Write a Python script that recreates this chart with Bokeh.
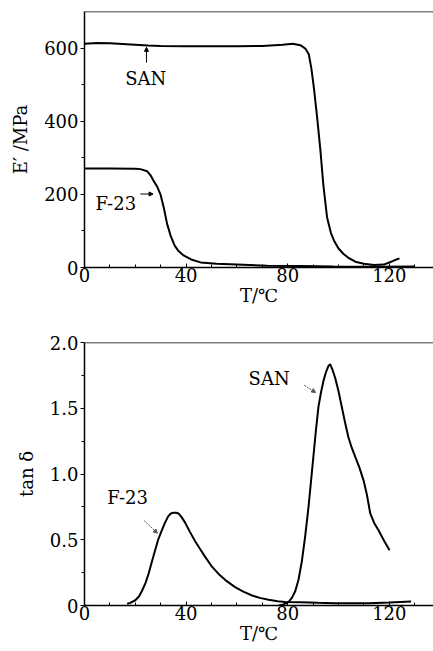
from bokeh.plotting import figure
from bokeh.layouts import column
from bokeh.models import FixedTicker, Label, Arrow, NormalHead, Span, Range1d
from bokeh.embed import file_html
from bokeh.resources import INLINE

# ---- data: storage modulus E' (MPa) vs T (°C)
san_E_T = [0, 5, 10, 15, 20, 25, 30, 40, 50, 60, 70, 78, 82, 85, 87, 88.3, 89.3, 90.3, 91.6, 92.9, 94, 95.5, 97, 98.2, 100, 102, 104, 107, 110, 114, 117.8, 120.5, 121.8, 124]
san_E = [612, 614, 613, 611, 609, 607, 606, 605, 605, 605, 606, 609, 612, 608, 598, 583, 545, 492, 410, 319, 228, 137, 95, 74, 52, 37, 26, 15, 10, 7, 8, 15, 19, 25]
f23_E_T = [0, 10, 20, 22, 24.7, 26, 27.3, 28.7, 29.9, 31.2, 32.5, 34, 35.5, 37, 39, 42, 45.7, 52, 60, 72, 85, 98, 115, 130]
f23_E = [271, 271, 270, 269, 263, 252, 236, 220, 200, 164, 120, 85, 60, 45, 33, 22, 14, 10, 8, 5, 4, 3, 2, 3]

# ---- data: tan delta vs T (°C)
f23_tan_T = [16.8, 18, 20, 21.5, 22.6, 24, 25.2, 26.5, 27.8, 29, 30.4, 31.7, 33, 34, 35, 36, 37, 38.3, 39.6, 41.5, 43.5, 45.5, 47.5, 50, 52.8, 56, 59.3, 62.5, 66, 69, 72.5, 76, 79, 85, 92, 98.7, 105, 112, 120, 128.6]
f23_tan = [0.013, 0.02, 0.04, 0.07, 0.11, 0.17, 0.24, 0.33, 0.42, 0.50, 0.57, 0.63, 0.68, 0.70, 0.705, 0.705, 0.70, 0.67, 0.63, 0.56, 0.49, 0.43, 0.37, 0.30, 0.24, 0.185, 0.14, 0.105, 0.076, 0.058, 0.043, 0.033, 0.027, 0.024, 0.02, 0.018, 0.017, 0.018, 0.022, 0.03]
san_tan_T = [76.4, 78, 80.3, 81.7, 83, 84.3, 85.6, 86.9, 88.2, 89.2, 90.2, 91.1, 92.1, 93.1, 94.1, 95, 96, 96.7, 97.5, 98.7, 100, 101.3, 102.6, 103.9, 105.2, 106.6, 108.2, 109.9, 111.2, 112.5, 114, 115.8, 118, 120.1]
san_tan = [0.0, 0.005, 0.025, 0.06, 0.11, 0.2, 0.34, 0.53, 0.75, 0.95, 1.15, 1.33, 1.51, 1.62, 1.71, 1.77, 1.82, 1.835, 1.80, 1.73, 1.63, 1.51, 1.39, 1.28, 1.20, 1.13, 1.05, 0.95, 0.84, 0.70, 0.63, 0.57, 0.49, 0.42]

x_ticks = [0, 40, 80, 120]
x_minor = [10, 20, 30, 50, 60, 70, 90, 100, 110, 130]
E_ticks = [0, 200, 400, 600]
E_minor = [100, 300, 500]
tan_ticks = [0, 0.5, 1.0, 1.5, 2.0]
tan_labels = ["0", "0.5", "1.0", "1.5", "2.0"]
tan_minor = [0.25, 0.75, 1.25, 1.75]

FONT = "DejaVu Serif"
FS = "18px"


def style(p, xt, xm, yt, ym, ylabels=None):
    p.xaxis.ticker = FixedTicker(ticks=xt, minor_ticks=xm)
    p.yaxis.ticker = FixedTicker(ticks=yt, minor_ticks=ym)
    if ylabels:
        p.yaxis.major_label_overrides = {t: l for t, l in zip(yt, ylabels)}
    p.xgrid.visible = False
    p.ygrid.visible = False
    p.outline_line_color = None
    p.background_fill_color = "white"
    p.border_fill_color = "white"
    for ax in (p.xaxis, p.yaxis):
        ax.axis_line_color = "black"
        ax.axis_line_width = 1.5
        ax.major_tick_line_color = "black"
        ax.minor_tick_line_color = "black"
        ax.major_tick_line_width = 1
        ax.minor_tick_line_width = 1
        ax.major_label_text_font = FONT
        ax.major_label_text_font_size = FS
        ax.major_label_text_color = "black"
        ax.axis_label_text_font = FONT
        ax.axis_label_text_font_size = FS
        ax.axis_label_text_font_style = "normal"
        ax.axis_label_text_color = "black"
    p.xaxis.major_tick_in = 4
    p.xaxis.major_tick_out = 0
    p.xaxis.minor_tick_in = 3
    p.xaxis.minor_tick_out = 0
    p.xaxis.major_label_standoff = 0
    p.xaxis.axis_label_standoff = 0
    p.yaxis.major_tick_in = 0
    p.yaxis.major_tick_out = 4
    p.yaxis.minor_tick_in = 0
    p.yaxis.minor_tick_out = 3
    p.yaxis.major_label_standoff = 2
    p.yaxis.axis_label_standoff = 10
    p.add_layout(Span(location=p.y_range.end, dimension="width", line_color="black", line_width=1.5))


# ---------- top: E'
p1 = figure(width=433, height=318, output_backend="svg", toolbar_location=None,
            x_range=Range1d(0, 137.4), y_range=Range1d(0, 700),
            min_border_left=84, min_border_right=0, min_border_top=11, min_border_bottom=51)
p1.line(san_E_T, san_E, line_color="black", line_width=2)
p1.line(f23_E_T, f23_E, line_color="black", line_width=2)
p1.xaxis.axis_label = "T/℃"
p1.yaxis.axis_label = "E′ /MPa"
style(p1, x_ticks, x_minor, E_ticks, E_minor)
p1.add_layout(Label(x=16, y=488, text="SAN", text_font=FONT, text_font_size=FS, text_color="black"))
p1.add_layout(Arrow(x_start=24.4, y_start=560, x_end=24.4, y_end=602, line_color="black", line_width=1,
                    end=NormalHead(size=4, fill_color="black", line_color="black")))
p1.add_layout(Label(x=4.3, y=147, text="F-23", text_font=FONT, text_font_size=FS, text_color="black"))
p1.add_layout(Arrow(x_start=22, y_start=201, x_end=27, y_end=201, line_color="black", line_width=1,
                    end=NormalHead(size=4, fill_color="black", line_color="black")))

# ---------- bottom: tan delta
p2 = figure(width=433, height=333, output_backend="svg", toolbar_location=None,
            x_range=Range1d(0, 137.4), y_range=Range1d(0, 2.0),
            min_border_left=84, min_border_right=0, min_border_top=24, min_border_bottom=46)
p2.line(f23_tan_T, f23_tan, line_color="black", line_width=2)
p2.line(san_tan_T, san_tan, line_color="black", line_width=2)
p2.xaxis.axis_label = "T/℃"
p2.yaxis.axis_label = "tan δ"
style(p2, x_ticks, x_minor, tan_ticks, tan_minor, tan_labels)
p2.add_layout(Label(x=9, y=0.74, text="F-23", text_font=FONT, text_font_size=FS, text_color="black"))
p2.add_layout(Arrow(x_start=23.5, y_start=0.645, x_end=28.7, y_end=0.55, line_color="#555555", line_width=1,
                    line_dash="2 1", end=NormalHead(size=4, fill_color="#555555", line_color="#555555")))
p2.add_layout(Label(x=64.6, y=1.65, text="SAN", text_font=FONT, text_font_size=FS, text_color="black"))
p2.add_layout(Arrow(x_start=86.5, y_start=1.675, x_end=91, y_end=1.62, line_color="#555555", line_width=1,
                    line_dash="2 1", end=NormalHead(size=4, fill_color="#555555", line_color="#555555")))

layout = column(p1, p2, spacing=0)
open("out.html", "w").write(file_html(layout, INLINE))
